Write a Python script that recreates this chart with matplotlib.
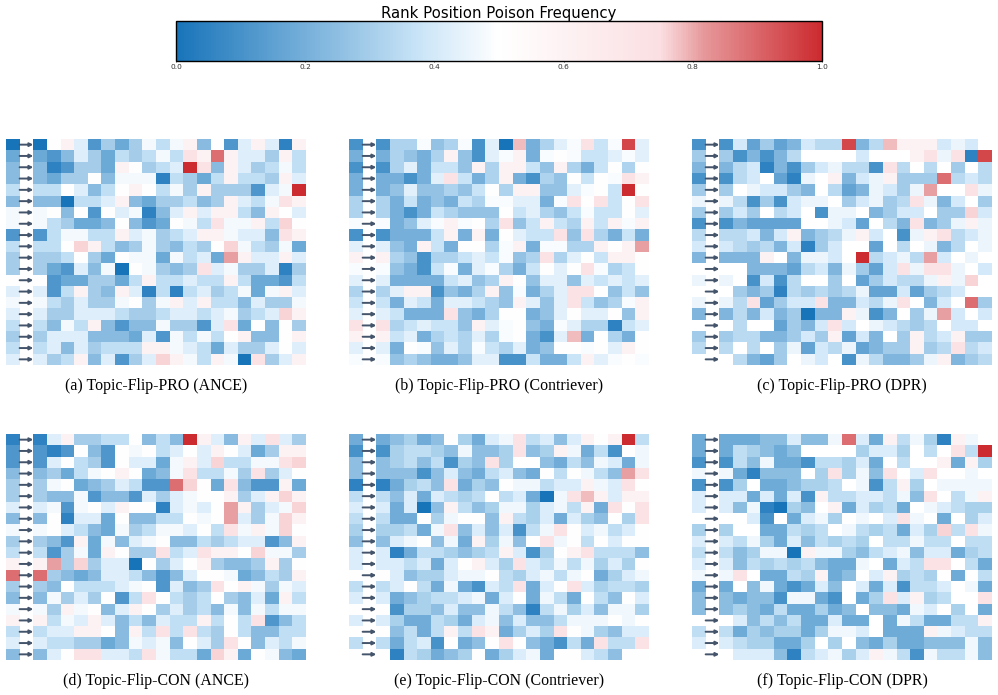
import numpy as np
import matplotlib
matplotlib.use('Agg')
import matplotlib.pyplot as plt
from matplotlib.colors import LinearSegmentedColormap, Normalize
from matplotlib.cm import ScalarMappable

W, H = 998, 695

# frequency of each shade step, the blue steps differ per panel
red_steps = [0.60, 0.72, 0.76, 0.785, 0.81, 0.89, 0.95, 1.0]
levels_a = [0.0, 0.05, 0.114, 0.178, 0.2415, 0.30, 0.356, 0.424, 0.476, 0.51] + red_steps
levels_b = [0.0, 0.05, 0.105, 0.20, 0.265, 0.32, 0.375, 0.43, 0.485, 0.51] + red_steps
levels_c = [0.0, 0.05, 0.105, 0.16, 0.22, 0.29, 0.34, 0.40, 0.455, 0.50] + red_steps
levels_e = [0.0, 0.05, 0.105, 0.19, 0.25, 0.31, 0.355, 0.415, 0.465, 0.51] + red_steps
levels_f = [0.0, 0.05, 0.105, 0.185, 0.245, 0.31, 0.355, 0.415, 0.465, 0.50] + red_steps

titles = ['(a) Topic-Flip-PRO (ANCE)', '(b) Topic-Flip-PRO (Contriever)', '(c) Topic-Flip-PRO (DPR)',
          '(d) Topic-Flip-CON (ANCE)', '(e) Topic-Flip-CON (Contriever)', '(f) Topic-Flip-CON (DPR)']

pro_ance = [
    [0, 9, 10, 7, 2, 5, 3, 5, 8, 6, 8, 10, 4, 9, 2, 7, 10, 7, 1, 10],
    [3, 2, 4, 7, 5, 3, 6, 5, 6, 8, 6, 11, 10, 15, 10, 7, 7, 5, 10, 6],
    [4, 1, 2, 5, 5, 3, 10, 9, 5, 6, 7, 17, 11, 4, 10, 7, 5, 6, 8, 6],
    [4, 3, 5, 5, 9, 4, 8, 8, 8, 1, 6, 5, 3, 6, 10, 6, 6, 5, 10, 7],
    [6, 6, 9, 7, 4, 6, 9, 10, 9, 6, 8, 5, 10, 5, 5, 5, 2, 7, 8, 17],
    [4, 4, 0, 6, 6, 7, 10, 4, 3, 5, 5, 6, 4, 5, 10, 7, 6, 8, 11, 10],
    [8, 9, 4, 9, 2, 9, 7, 8, 1, 4, 7, 10, 7, 10, 10, 6, 4, 10, 9, 7],
    [8, 6, 5, 3, 3, 4, 9, 4, 2, 3, 9, 8, 6, 11, 8, 8, 10, 6, 12, 9],
    [2, 6, 8, 8, 6, 6, 10, 7, 8, 5, 6, 7, 10, 10, 8, 7, 7, 4, 11, 10],
    [6, 6, 9, 12, 10, 6, 4, 5, 8, 5, 4, 6, 5, 9, 12, 8, 6, 5, 8, 3],
    [5, 5, 6, 9, 5, 3, 9, 8, 8, 3, 8, 6, 7, 3, 14, 10, 7, 7, 10, 7],
    [5, 3, 2, 7, 4, 8, 0, 9, 8, 5, 4, 5, 11, 7, 8, 5, 5, 7, 1, 5],
    [9, 2, 3, 3, 5, 5, 3, 6, 10, 6, 6, 7, 6, 6, 10, 6, 3, 3, 2, 6],
    [7, 2, 6, 10, 5, 4, 10, 7, 1, 6, 1, 6, 7, 5, 6, 8, 3, 8, 10, 7],
    [8, 6, 5, 7, 5, 5, 8, 9, 5, 8, 10, 7, 10, 6, 6, 4, 7, 5, 5, 8],
    [7, 5, 5, 7, 7, 7, 6, 5, 5, 6, 7, 7, 6, 7, 8, 5, 6, 7, 12, 10],
    [6, 4, 8, 6, 10, 4, 2, 4, 4, 8, 5, 5, 2, 7, 11, 3, 9, 4, 9, 5],
    [5, 7, 7, 7, 4, 4, 4, 3, 7, 2, 8, 6, 8, 6, 9, 10, 4, 4, 9, 10],
    [6, 7, 4, 7, 5, 6, 6, 6, 10, 10, 8, 7, 6, 3, 7, 5, 5, 7, 9, 7],
    [7, 5, 6, 10, 4, 7, 2, 5, 7, 12, 10, 8, 6, 10, 8, 0, 11, 5, 7, 10],
]

pro_contriever = [
    [2, 5, 5, 8, 4, 5, 8, 2, 7, 0, 13, 3, 5, 7, 8, 11, 6, 8, 16, 7],
    [3, 5, 4, 3, 5, 10, 4, 2, 7, 8, 10, 3, 8, 9, 8, 6, 6, 7, 8, 7],
    [2, 5, 7, 3, 6, 6, 4, 10, 5, 10, 10, 6, 4, 10, 5, 3, 6, 9, 5, 9],
    [3, 3, 2, 3, 7, 11, 6, 3, 5, 10, 3, 2, 5, 4, 9, 6, 9, 8, 11, 10],
    [3, 4, 7, 4, 4, 5, 4, 6, 9, 5, 10, 10, 4, 4, 7, 8, 9, 6, 17, 9],
    [5, 3, 6, 3, 4, 3, 6, 5, 8, 8, 7, 7, 3, 8, 11, 9, 11, 6, 9, 11],
    [5, 3, 2, 3, 6, 5, 4, 4, 4, 9, 6, 7, 5, 4, 6, 8, 6, 6, 9, 7],
    [8, 3, 4, 7, 8, 10, 8, 9, 5, 11, 4, 6, 10, 6, 5, 10, 6, 10, 8, 10],
    [2, 3, 3, 3, 6, 10, 3, 10, 3, 9, 7, 6, 6, 11, 4, 11, 5, 3, 6, 3],
    [7, 4, 3, 10, 6, 3, 9, 9, 5, 8, 10, 3, 8, 8, 5, 5, 10, 9, 10, 14],
    [10, 5, 4, 2, 5, 5, 6, 7, 6, 8, 4, 5, 11, 5, 7, 9, 6, 10, 10, 9],
    [8, 4, 3, 2, 6, 8, 3, 7, 8, 5, 3, 6, 9, 7, 9, 11, 8, 5, 6, 9],
    [7, 3, 3, 3, 3, 6, 7, 4, 5, 10, 9, 4, 7, 7, 4, 7, 6, 7, 6, 7],
    [5, 7, 10, 10, 2, 4, 3, 5, 10, 4, 8, 3, 5, 7, 11, 11, 9, 4, 6, 4],
    [6, 3, 7, 6, 3, 7, 7, 6, 5, 4, 10, 7, 4, 7, 11, 6, 4, 5, 8, 10],
    [7, 6, 3, 3, 3, 11, 4, 3, 5, 9, 9, 3, 4, 7, 9, 7, 7, 9, 4, 10],
    [11, 5, 6, 7, 6, 6, 4, 10, 7, 8, 9, 4, 3, 8, 7, 5, 5, 1, 6, 7],
    [10, 6, 7, 3, 5, 6, 5, 7, 5, 8, 9, 3, 2, 7, 13, 3, 9, 5, 3, 9],
    [7, 3, 9, 8, 4, 7, 5, 8, 6, 5, 7, 3, 4, 9, 9, 8, 9, 7, 10, 9],
    [8, 4, 5, 4, 3, 3, 4, 7, 7, 2, 2, 6, 3, 3, 6, 10, 7, 8, 9, 8],
]

pro_dpr = [
    [2, 7, 3, 5, 3, 4, 7, 6, 6, 16, 4, 6, 13, 10, 10, 10, 7, 8, 7, 9],
    [5, 2, 4, 2, 4, 6, 9, 9, 9, 9, 7, 9, 9, 9, 10, 11, 8, 11, 1, 16],
    [4, 6, 7, 1, 4, 2, 5, 7, 8, 6, 6, 2, 11, 6, 9, 6, 9, 5, 9, 6],
    [2, 6, 7, 9, 3, 1, 8, 9, 10, 4, 7, 8, 10, 5, 5, 5, 15, 6, 7, 6],
    [5, 9, 8, 7, 7, 5, 4, 9, 6, 3, 4, 8, 7, 5, 8, 14, 9, 9, 11, 8],
    [8, 6, 2, 5, 2, 7, 8, 8, 9, 5, 7, 8, 5, 6, 11, 8, 4, 7, 9, 5],
    [5, 7, 5, 9, 6, 7, 9, 2, 8, 8, 9, 4, 5, 7, 7, 9, 5, 5, 12, 7],
    [2, 4, 3, 3, 3, 3, 9, 9, 8, 7, 3, 9, 6, 4, 11, 4, 5, 8, 10, 8],
    [6, 6, 7, 4, 7, 10, 4, 5, 6, 8, 10, 7, 9, 2, 8, 10, 11, 6, 7, 8],
    [7, 6, 5, 6, 4, 7, 1, 5, 7, 9, 9, 3, 9, 6, 9, 8, 4, 6, 9, 8],
    [4, 4, 4, 10, 9, 4, 8, 8, 7, 9, 17, 6, 7, 8, 6, 14, 7, 9, 8, 9],
    [9, 9, 4, 4, 4, 3, 6, 7, 4, 8, 5, 3, 7, 11, 8, 11, 11, 8, 9, 7],
    [8, 9, 2, 7, 2, 6, 9, 9, 5, 9, 3, 5, 7, 6, 6, 8, 10, 8, 12, 9],
    [9, 5, 4, 5, 1, 6, 5, 6, 5, 6, 8, 3, 3, 7, 3, 5, 6, 7, 9, 9],
    [8, 6, 11, 3, 5, 7, 7, 11, 4, 4, 7, 6, 8, 11, 9, 4, 7, 9, 15, 5],
    [4, 6, 4, 7, 4, 5, 0, 4, 4, 10, 8, 2, 4, 9, 5, 8, 14, 7, 9, 7],
    [9, 6, 9, 9, 3, 5, 4, 7, 11, 7, 9, 8, 7, 6, 5, 6, 9, 7, 7, 9],
    [5, 6, 6, 4, 4, 5, 7, 5, 10, 3, 7, 4, 9, 5, 10, 6, 7, 10, 5, 5],
    [6, 9, 6, 9, 5, 8, 3, 7, 6, 8, 3, 4, 5, 5, 10, 5, 6, 11, 6, 7],
    [9, 6, 4, 3, 5, 9, 8, 7, 9, 2, 8, 6, 4, 4, 5, 8, 10, 4, 5, 6],
]

con_ance = [
    [1, 7, 10, 5, 5, 6, 6, 9, 4, 6, 4, 17, 10, 7, 4, 10, 7, 11, 7, 5],
    [2, 1, 2, 9, 4, 2, 9, 8, 9, 6, 7, 9, 7, 10, 9, 7, 3, 5, 10, 10],
    [2, 7, 9, 6, 5, 2, 9, 7, 7, 3, 8, 10, 7, 12, 6, 6, 8, 8, 11, 12],
    [4, 5, 3, 6, 8, 9, 10, 9, 3, 4, 8, 11, 6, 6, 8, 5, 11, 5, 7, 9],
    [5, 8, 9, 3, 4, 5, 7, 6, 2, 2, 15, 12, 9, 3, 11, 4, 2, 2, 10, 3],
    [5, 4, 4, 8, 2, 4, 4, 2, 7, 5, 7, 8, 9, 9, 10, 5, 7, 10, 12, 10],
    [7, 8, 2, 8, 9, 7, 10, 9, 9, 1, 7, 8, 7, 9, 14, 10, 5, 7, 8, 12],
    [4, 9, 1, 7, 7, 3, 9, 4, 4, 6, 6, 9, 8, 9, 14, 7, 5, 8, 12, 10],
    [8, 9, 7, 6, 4, 3, 8, 5, 6, 8, 8, 7, 9, 6, 11, 8, 10, 8, 12, 9],
    [5, 4, 2, 10, 3, 8, 4, 7, 8, 9, 4, 4, 6, 5, 6, 7, 7, 2, 4, 10],
    [6, 2, 5, 8, 3, 10, 9, 5, 5, 11, 6, 7, 11, 10, 10, 9, 12, 8, 8, 5],
    [10, 14, 5, 12, 5, 7, 7, 0, 9, 5, 7, 9, 10, 5, 4, 4, 5, 10, 5, 9],
    [15, 5, 4, 3, 4, 7, 7, 6, 4, 2, 4, 7, 9, 9, 8, 3, 4, 6, 5, 10],
    [5, 4, 9, 6, 6, 6, 7, 8, 9, 2, 7, 4, 5, 11, 9, 10, 8, 5, 8, 7],
    [4, 8, 5, 7, 5, 9, 2, 6, 11, 9, 6, 5, 6, 9, 5, 4, 7, 3, 10, 6],
    [8, 5, 10, 8, 9, 4, 7, 10, 9, 5, 7, 5, 6, 4, 8, 4, 8, 6, 8, 8],
    [10, 6, 8, 7, 10, 7, 4, 6, 4, 7, 6, 6, 10, 6, 9, 6, 11, 2, 4, 6],
    [6, 7, 7, 10, 10, 9, 4, 10, 6, 11, 6, 11, 6, 5, 9, 6, 4, 4, 6, 6],
    [7, 6, 6, 5, 5, 3, 4, 8, 7, 8, 4, 9, 7, 5, 11, 9, 4, 7, 6, 8],
    [4, 7, 9, 11, 11, 7, 7, 6, 11, 8, 6, 6, 3, 12, 10, 3, 9, 8, 4, 3],
]

con_contriever = [
    [3, 4, 5, 3, 4, 9, 5, 3, 7, 8, 11, 6, 7, 4, 7, 10, 9, 10, 17, 6],
    [2, 5, 6, 6, 5, 4, 8, 4, 4, 5, 11, 4, 5, 10, 8, 3, 6, 2, 9, 8],
    [4, 5, 6, 4, 6, 2, 5, 4, 11, 5, 9, 9, 4, 3, 6, 4, 8, 7, 3, 8],
    [4, 4, 4, 2, 4, 7, 4, 3, 6, 7, 4, 3, 9, 6, 9, 8, 6, 4, 14, 11],
    [1, 3, 5, 6, 4, 11, 3, 5, 4, 9, 8, 8, 6, 7, 7, 10, 8, 7, 11, 9],
    [6, 4, 7, 3, 7, 6, 5, 6, 9, 6, 7, 3, 0, 8, 11, 13, 10, 7, 10, 10],
    [7, 3, 7, 0, 4, 10, 6, 4, 5, 8, 8, 5, 7, 8, 6, 10, 3, 11, 9, 11],
    [6, 3, 3, 9, 5, 8, 9, 9, 4, 10, 6, 5, 7, 3, 7, 5, 4, 9, 5, 11],
    [5, 5, 6, 3, 8, 11, 4, 7, 4, 7, 2, 6, 8, 11, 9, 7, 8, 6, 7, 9],
    [4, 7, 8, 9, 4, 8, 3, 10, 5, 8, 4, 9, 11, 8, 9, 6, 9, 7, 9, 9],
    [7, 1, 3, 6, 6, 5, 4, 5, 6, 10, 7, 2, 5, 9, 10, 11, 6, 6, 6, 4],
    [7, 7, 6, 7, 3, 7, 9, 10, 7, 5, 11, 7, 6, 8, 6, 8, 5, 7, 5, 9],
    [9, 7, 4, 5, 5, 7, 8, 8, 9, 6, 5, 7, 8, 6, 8, 9, 3, 5, 7, 8],
    [6, 7, 9, 6, 3, 8, 3, 2, 7, 6, 11, 3, 7, 9, 11, 7, 5, 6, 6, 5],
    [7, 3, 4, 5, 6, 6, 7, 8, 3, 7, 9, 3, 8, 6, 3, 9, 6, 4, 9, 7],
    [9, 2, 5, 5, 4, 7, 4, 4, 8, 6, 4, 1, 6, 8, 5, 7, 4, 8, 8, 5],
    [7, 5, 3, 3, 6, 5, 3, 7, 8, 4, 7, 4, 4, 6, 8, 8, 8, 9, 8, 9],
    [9, 4, 6, 3, 6, 10, 6, 11, 10, 3, 5, 7, 5, 11, 9, 8, 5, 4, 7, 7],
    [6, 3, 6, 7, 2, 9, 3, 4, 9, 11, 9, 4, 3, 2, 6, 3, 11, 6, 6, 11],
    [9, 1, 6, 5, 3, 4, 5, 9, 3, 5, 7, 8, 3, 9, 9, 7, 6, 4, 9, 9],
]

con_dpr = [
    [3, 3, 3, 4, 4, 7, 4, 4, 8, 15, 7, 3, 10, 6, 8, 5, 1, 10, 8, 9],
    [3, 6, 5, 4, 3, 4, 9, 9, 9, 9, 5, 7, 7, 5, 9, 6, 9, 11, 6, 17],
    [2, 6, 4, 8, 3, 3, 2, 6, 6, 5, 7, 3, 9, 6, 9, 9, 10, 3, 10, 5],
    [8, 3, 1, 4, 4, 4, 9, 5, 11, 5, 8, 4, 11, 9, 7, 11, 9, 9, 8, 9],
    [2, 5, 9, 3, 3, 4, 5, 5, 6, 9, 8, 2, 6, 10, 5, 9, 8, 8, 8, 8],
    [7, 7, 3, 7, 3, 7, 2, 10, 6, 6, 7, 7, 6, 8, 4, 11, 9, 6, 8, 10],
    [7, 4, 8, 1, 0, 5, 4, 9, 10, 3, 7, 5, 6, 3, 9, 8, 7, 6, 5, 5],
    [9, 9, 7, 2, 9, 3, 7, 8, 5, 9, 8, 9, 7, 11, 8, 9, 3, 9, 5, 7],
    [5, 9, 9, 3, 3, 6, 5, 6, 9, 8, 6, 5, 6, 3, 7, 5, 12, 6, 11, 8],
    [7, 6, 8, 5, 3, 7, 4, 6, 5, 6, 5, 9, 6, 6, 8, 6, 6, 9, 6, 6],
    [6, 4, 5, 8, 8, 0, 10, 8, 8, 5, 4, 6, 7, 8, 4, 7, 7, 3, 5, 6],
    [7, 4, 6, 5, 6, 5, 6, 4, 3, 3, 8, 9, 3, 7, 6, 11, 11, 9, 6, 3],
    [8, 11, 9, 3, 3, 6, 5, 10, 3, 4, 9, 7, 10, 5, 6, 5, 9, 3, 9, 6],
    [3, 9, 4, 8, 3, 2, 3, 7, 4, 9, 7, 3, 7, 2, 6, 6, 7, 9, 8, 3],
    [4, 3, 4, 4, 2, 8, 8, 3, 2, 9, 3, 5, 11, 7, 10, 5, 6, 9, 9, 11],
    [4, 5, 4, 3, 6, 3, 3, 5, 3, 4, 9, 4, 4, 3, 8, 7, 9, 5, 9, 3],
    [9, 7, 4, 6, 4, 6, 3, 3, 7, 3, 3, 9, 3, 8, 6, 3, 3, 6, 6, 10],
    [6, 3, 5, 4, 5, 5, 3, 5, 8, 8, 7, 9, 3, 3, 3, 10, 8, 7, 6, 6],
    [7, 6, 5, 5, 3, 3, 5, 9, 5, 9, 4, 3, 5, 3, 3, 4, 4, 4, 8, 4],
    [9, 7, 7, 7, 4, 1, 6, 7, 8, 5, 7, 10, 8, 6, 2, 8, 6, 6, 8, 4],
]

grids = [pro_ance, pro_contriever, pro_dpr, con_ance, con_contriever, con_dpr]
panel_levels = [levels_a, levels_b, levels_c, levels_a, levels_e, levels_f]

cmap = LinearSegmentedColormap.from_list('poison', [
    (0.0, '#1874b9'), (0.375, '#c9e4f7'), (0.5, '#ffffff'), (0.75, '#fbdfe2'),
    (0.82, '#e69799'), (1.0, '#cc2b30')])
norm = Normalize(0, 1)


def px_axes(fig, x0, y0, x1, y1):
    # axes placed by pixel box, y measured from the top
    return fig.add_axes([x0 / W, 1 - y1 / H, (x1 - x0) / W, (y1 - y0) / H])


def draw_panel(ax, grid, levels, title):
    vals = np.array(levels)[np.array(grid)]
    n_rows, n_cols = vals.shape
    # first column repeated on the left, one blank column holds the arrows
    full = np.column_stack([vals[:, 0], np.full(n_rows, np.nan), vals])
    ax.pcolormesh(full, cmap=cmap, norm=norm)
    for r in range(n_rows):
        ax.annotate('', xy=(2.0, r + 0.5), xytext=(1.0, r + 0.5),
                    arrowprops=dict(arrowstyle='-|>', color='#44546a', lw=1.4,
                                    mutation_scale=5, shrinkA=0, shrinkB=0))
    ax.set_xlim(0, n_cols + 2)
    ax.set_ylim(n_rows, 0)
    ax.axis('off')
    ax.text(0.5, -0.095, title, transform=ax.transAxes, ha='center', va='center',
            family='Liberation Serif', fontsize=11.4)


fig = plt.figure(figsize=(W / 100, H / 100), dpi=100)

xs = [6, 349, 692]
ys = [139, 434]
for i, (grid, levels, title) in enumerate(zip(grids, panel_levels, titles)):
    x0 = xs[i % 3]
    y0 = ys[i // 3]
    draw_panel(px_axes(fig, x0, y0, x0 + 300, y0 + 226), grid, levels, title)

cax = px_axes(fig, 176, 21, 822, 61)
cb = fig.colorbar(ScalarMappable(norm=norm, cmap=cmap), cax=cax, orientation='horizontal')
cb.set_ticks([0.0, 0.2, 0.4, 0.6, 0.8, 1.0])
cb.ax.tick_params(labelsize=5.3, length=1, width=0.5, pad=1, labelcolor='#333333')
cb.outline.set_linewidth(1.0)
cax.set_title('Rank Position Poison Frequency', fontsize=10.7, pad=1)

fig.savefig('out.png', dpi=100)
